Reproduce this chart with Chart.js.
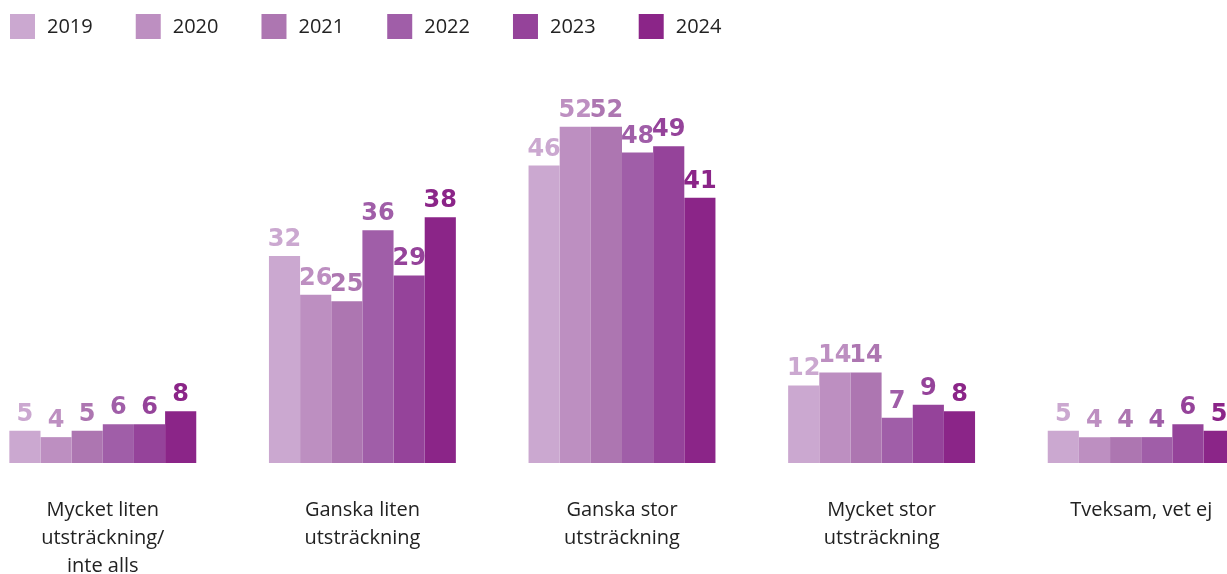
<!DOCTYPE html>
<html lang="sv">
  <head>
    <meta charset="UTF-8" />
    <title>Utsträckning 2019–2024</title>
    <script src="https://cdn.jsdelivr.net/npm/chart.js"></script>
    <style>
      html, body { margin: 0; padding: 0; background: #fff; overflow: hidden; }
      #wrap { width: 1227px; height: 574px; overflow: hidden; position: relative; }
      /* the plot runs a bit past both edges, as in the source picture */
      #chartCanvas { position: absolute; left: -27px; top: 0; }
    </style>
  </head>
  <body>
    <div id="wrap"><canvas id="chartCanvas" width="1298" height="574"></canvas></div>

    <script>
      let categories = [
        ["Mycket liten", "utsträckning/", "inte alls"],
        ["Ganska liten", "utsträckning"],
        ["Ganska stor", "utsträckning"],
        ["Mycket stor", "utsträckning"],
        "Tveksam, vet ej",
      ];
      let years = ["2019", "2020", "2021", "2022", "2023", "2024"];
      let v2019 = [5, 32, 46, 12, 5];
      let v2020 = [4, 26, 52, 14, 4];
      let v2021 = [5, 25, 52, 14, 4];
      let v2022 = [6, 36, 48, 7, 4];
      let v2023 = [6, 29, 49, 9, 6];
      let v2024 = [8, 38, 41, 8, 5];
      let colors = ["#cba8d0", "#bd8fc1", "#ad76b1", "#a05ea8", "#95439a", "#8b2588"];

      let seriesValues = [v2019, v2020, v2021, v2022, v2023, v2024];
      let shiftX = 27; // canvas is moved left by this much

      // value labels above each bar, same colour as the bar
      const valueLabels = {
        id: "valueLabels",
        afterDatasetsDraw(chart) {
          const ctx = chart.ctx;
          ctx.save();
          ctx.font = "bold 24px 'DejaVu Sans'";
          ctx.textAlign = "center";
          ctx.textBaseline = "alphabetic";
          chart.data.datasets.forEach((ds, i) => {
            chart.getDatasetMeta(i).data.forEach((bar, j) => {
              ctx.fillStyle = ds.backgroundColor;
              ctx.fillText(ds.data[j], bar.x, bar.y - 10);
            });
          });
          ctx.restore();
        },
      };

      // legend row at the top
      const topLegend = {
        id: "topLegend",
        afterDraw(chart) {
          const ctx = chart.ctx;
          ctx.save();
          ctx.font = "20px 'Open Sans'";
          ctx.textBaseline = "middle";
          ctx.textAlign = "left";
          let x = 10 + shiftX;
          chart.data.datasets.forEach((ds) => {
            ctx.fillStyle = ds.backgroundColor;
            ctx.fillRect(x, 14, 25, 25);
            ctx.fillStyle = "#222";
            ctx.fillText(ds.label, x + 37, 27);
            x += 37 + ctx.measureText(ds.label).width + 43;
          });
          ctx.restore();
        },
      };

      let ctx = document.getElementById("chartCanvas").getContext("2d");
      new Chart(ctx, {
        type: "bar",
        data: {
          labels: categories,
          datasets: years.map((y, i) => ({
            label: y,
            data: seriesValues[i],
            backgroundColor: colors[i],
            borderWidth: 0,
            categoryPercentage: 0.72,
            barPercentage: 1.0,
          })),
        },
        options: {
          responsive: false,
          devicePixelRatio: 1,
          animation: false,
          layout: { padding: { left: 0, right: 0, top: 75, bottom: 0 } },
          plugins: {
            legend: { display: false },
            tooltip: { enabled: false },
          },
          scales: {
            x: {
              grid: { display: false },
              border: { display: false },
              ticks: {
                color: "#222",
                font: { family: "'Open Sans'", size: 20, lineHeight: "28px" },
                padding: 25,
                maxRotation: 0,
                autoSkip: false,
              },
              afterFit(scale) {
                scale.height = 111;
              },
            },
            y: {
              display: false,
              min: 0,
              max: 60,
            },
          },
        },
        plugins: [valueLabels, topLegend],
      });
    </script>
  </body>
</html>
